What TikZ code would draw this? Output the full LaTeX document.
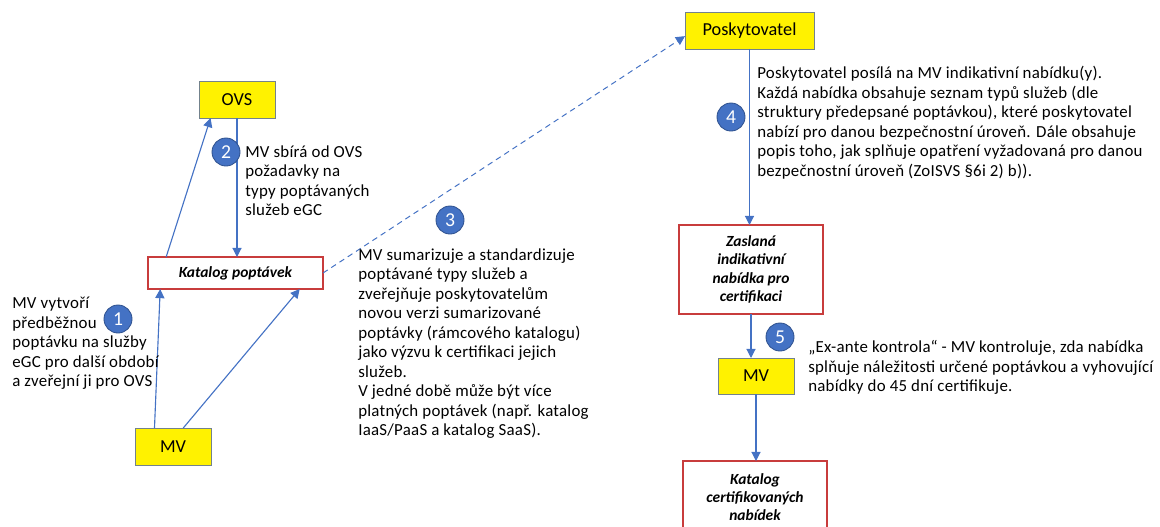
\documentclass[tikz,border=0pt]{standalone}
\usepackage{fontspec}
\setmainfont{Carlito}
\usetikzlibrary{arrows.meta}

\definecolor{flowblue}{RGB}{68,114,196}
\definecolor{markedge}{RGB}{47,82,143}
\definecolor{docred}{RGB}{200,60,60}
\definecolor{actoredge}{RGB}{115,130,140}

\begin{document}
\begin{tikzpicture}
  [
    x=0.025cm, y=-0.025cm,
    >={Triangle[length=6.5pt, width=6.5pt]},
    Flow/.style={->, draw=flowblue, line width=0.8pt},
    ActorBox/.style={draw=actoredge, fill=yellow, line width=0.6pt, minimum width=1.9cm, minimum height=0.925cm, inner sep=0pt, outer sep=0pt, font=\fontsize{13}{15}\selectfont},
    DocBox/.style={draw=docred, fill=white, line width=0.8pt, minimum width=3.6cm, inner sep=0pt, outer sep=0pt, align=center, font=\fontsize{11}{13}\selectfont\bfseries\itshape},
    StepMark/.style={circle, fill=flowblue, draw=markedge, line width=0.6pt, minimum size=0.7cm, inner sep=0pt, text=white, font=\fontsize{14}{14}\selectfont},
    Note/.style={anchor=north west, inner sep=0pt, align=left, font=\fontsize{12}{13.9}\selectfont\addfontfeatures{LetterSpace=1.5}},
  ]
  \useasboundingbox (0,0) rectangle (1160,527);

  % left part
  \node [ActorBox] (ovs) at (237,99.5) {OVS};
  \node [DocBox, minimum width=4.375cm, minimum height=0.8cm] (katpop) at (235.5,273) {Katalog poptávek};
  \node [ActorBox] (mvleft) at (173,446.5) {MV};

  % right part
  \node [ActorBox, minimum width=3.225cm] (posk) at (749.5,30.5) {Poskytovatel};
  \node [DocBox, minimum height=2.225cm] (nabidka) at (751,269.5) {Zaslaná\\indikativní\\nabídka pro\\certifikaci};
  \node [ActorBox, minimum height=0.9cm] (mvright) at (756,376) {MV};
  \node [DocBox, minimum height=1.8cm] (katcert) at (755,497) {Katalog\\certifikovaných\\nabídek};

  \draw [Flow] (mvleft.135.8) -- (katpop.192.4);
  \draw [Flow] (mvleft.61.6) -- (katpop.346.5);
  \draw [Flow] (katpop.167) -- (ovs.215.4);
  \draw [Flow] (ovs.south) -- (ovs.south |- katpop.north);
  \draw [Flow, line width=0.7pt, dash pattern=on 4pt off 3pt] (katpop.east) -- (posk.185);
  \draw [Flow] (posk.south) -- (posk.south |- nabidka.north);
  \draw [Flow] (nabidka.south) -- (nabidka.south |- mvright.north);
  \draw [Flow] (mvright.south) -- (mvright.south |- katcert.north);

  % steps
  \node [StepMark] (s1) at (118,319) {1};
  \node [StepMark] (s2) at (226,152) {2};
  \node [StepMark] (s3) at (450,220) {3};
  \node [StepMark] (s4) at (731,117) {4};
  \node [StepMark] (s5) at (780,337) {5};

  \node [Note] (t1) at (12,297) {MV vytvoří\\předběžnou\\poptávku na služby\\eGC pro další období\\a zveřejní ji pro OVS};
  \node [Note] (t2) at (245,145) {MV sbírá od OVS\\požadavky na\\typy poptávaných\\služeb eGC};
  \node [Note] (t3) at (358,248) {MV sumarizuje a standardizuje\\poptávané typy služeb a\\zveřejňuje poskytovatelům\\novou verzi sumarizované\\poptávky (rámcového katalogu)\\jako výzvu k certifikaci jejich\\služeb.\\V jedné době může být více\\platných poptávek (např. katalog\\IaaS/PaaS a katalog SaaS).};
  \node [Note] (t4) at (757,66) {Poskytovatel posílá na MV indikativní nabídku(y).\\Každá nabídka obsahuje seznam typů služeb (dle\\struktury předepsané poptávkou), které poskytovatel\\nabízí pro danou bezpečnostní úroveň. Dále obsahuje\\popis toho, jak splňuje opatření vyžadovaná pro danou\\bezpečnostní úroveň (ZoISVS §6i 2) b)).};
  \node [Note] (t5) at (808,340) {„Ex-ante kontrola“ - MV kontroluje, zda nabídka\\splňuje náležitosti určené poptávkou a vyhovující\\nabídky do 45 dní certifikuje.};
\end{tikzpicture}
\end{document}
